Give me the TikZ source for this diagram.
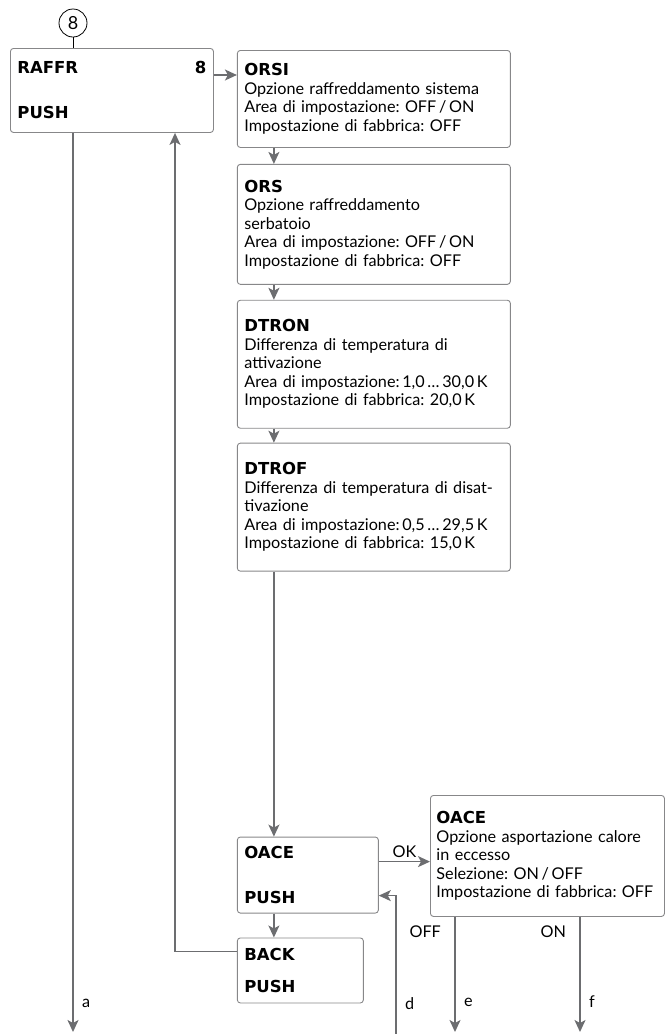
\documentclass[tikz,border=0pt]{standalone}
\usepackage{fontspec}
\setmainfont{Lato}
\newfontfamily\kopffont{DejaVu Sans}
\usetikzlibrary{arrows.meta,positioning}
\definecolor{rahmen}{RGB}{135,135,137}
\definecolor{pfeil}{RGB}{108,109,112}
\newcommand{\kopf}[1]{{\kopffont\bfseries\fontsize{16.5}{18.5}\selectfont #1}}
\frenchspacing

\begin{document}
\begin{tikzpicture}[
			x=1pt, y=-1pt,
			font=\fontsize{16.2}{18.5}\selectfont,
			menu/.style={draw=rahmen, line width=0.9pt, rounded corners=3pt, align=left, inner xsep=7pt, inner ysep=0pt, anchor=north west},
			param/.style={menu, text width=259pt},
			kreis/.style={draw, circle, line width=0.8pt, minimum size=28pt, inner sep=0pt, font=\fontsize{18}{18}\selectfont},
			>={Stealth[length=12pt, width=11pt, inset=3pt]},
			fl/.style={->, draw=pfeil, line width=1.6pt}
		]
		\useasboundingbox (0,0) rectangle (667,1034);

		\node[kreis] (k8) at (73,23) {8};
		\node[menu, text width=189pt, minimum height=84pt] (raffr) at (10,48) {\kopf{RAFFR}\hfill\kopf{8}\\[26.5pt]\kopf{PUSH}};
		\node[param, minimum height=97pt, right=23pt of raffr.north east, anchor=north west, yshift=-2pt] (orsi) {\kopf{ORSI}\\Opzione raffreddamento sistema\\Area di impostazione: OFF\,/\,ON\\Impostazione di fabbrica: OFF};
		\node[param, minimum height=120pt, below=16pt of orsi] (ors) {\kopf{ORS}\\Opzione raffreddamento\\serbatoio\\Area di impostazione: OFF\,/\,ON\\Impostazione di fabbrica: OFF};
		\node[param, minimum height=128pt, below=15pt of ors] (dtron) {\kopf{DTRON}\\Differenza di temperatura di\\attivazione\\Area di impostazione:\,1,0\,\dots\,30,0\,K\\Impostazione di fabbrica: 20,0\,K};
		\node[param, minimum height=128pt, below=14pt of dtron] (dtrof) {\kopf{DTROF}\\Differenza di temperatura di disat-\\tivazione\\Area di impostazione:\,0,5\,\dots\,29,5\,K\\Impostazione di fabbrica: 15,0\,K};
		\node[menu, text width=127pt, minimum height=76pt, below=265pt of dtrof.south west, anchor=north west] (oace) {\kopf{OACE}\\[26.5pt]\kopf{PUSH}};
		\node[menu, text width=112pt, minimum height=65pt, below=24pt of oace.south west, anchor=north west] (back) {\kopf{BACK}\\[13.5pt]\kopf{PUSH}};
		\node[menu, inner xsep=6pt, text width=222pt, minimum height=121pt] (oace2) at (430,795) {\kopf{OACE}\\Opzione asportazione calore\\in eccesso\\Selezione: ON\,/\,OFF\\Impostazione di fabbrica: OFF};

		% punti di aggancio
		\coordinate (r1) at ([yshift=-27pt]raffr.north east);
		\coordinate (ok1) at ([yshift=-25pt]oace.north east);
		\coordinate (d1) at ([yshift=-59pt]oace.north east);
		\coordinate (b1) at ([yshift=-14pt]back.north west);
		\coordinate (b2) at ([xshift=165pt]raffr.south west);
		\coordinate (aend) at (73,1032);
		\coordinate (dend) at (396,1034);
		\coordinate (eend) at (455,1032);
		\coordinate (fend) at (580,1032);

		\draw[line width=0.8pt] (k8) -- (k8 |- raffr.north);
		\draw[fl] (r1) -- (r1 -| orsi.west);
		\draw[fl] ([xshift=37pt]orsi.south west) -- ([xshift=37pt]ors.north west);
		\draw[fl] ([xshift=37pt]ors.south west) -- ([xshift=37pt]dtron.north west);
		\draw[fl] ([xshift=37pt]dtron.south west) -- ([xshift=37pt]dtrof.north west);
		\draw[fl] ([xshift=37pt]dtrof.south west) -- ([xshift=37pt]oace.north west);
		\draw[fl] ([xshift=37pt]oace.south west) -- ([xshift=37pt]back.north west);
		\draw[fl] (ok1) -- (ok1 -| oace2.west) node[midway, above, text=black] {OK};
		\draw[fl] (b1) -| (b2);
		\draw[fl] (k8 |- raffr.south) -- (aend) node[pos=0.968, right=5pt, text=black] {a};
		\draw[fl] (dend) |- (d1) node[pos=0.11, right=5pt, text=black] {d};
		\draw[fl] (oace2.south -| eend) -- (eend)
			node[pos=0.13, left=10pt, text=black] {OFF}
			node[pos=0.74, right=5pt, text=black] {e};
		\draw[fl] (oace2.south -| fend) -- (fend)
			node[pos=0.13, left=10pt, text=black] {ON}
			node[pos=0.74, right=5pt, text=black] {f};
	\end{tikzpicture}
\end{document}
